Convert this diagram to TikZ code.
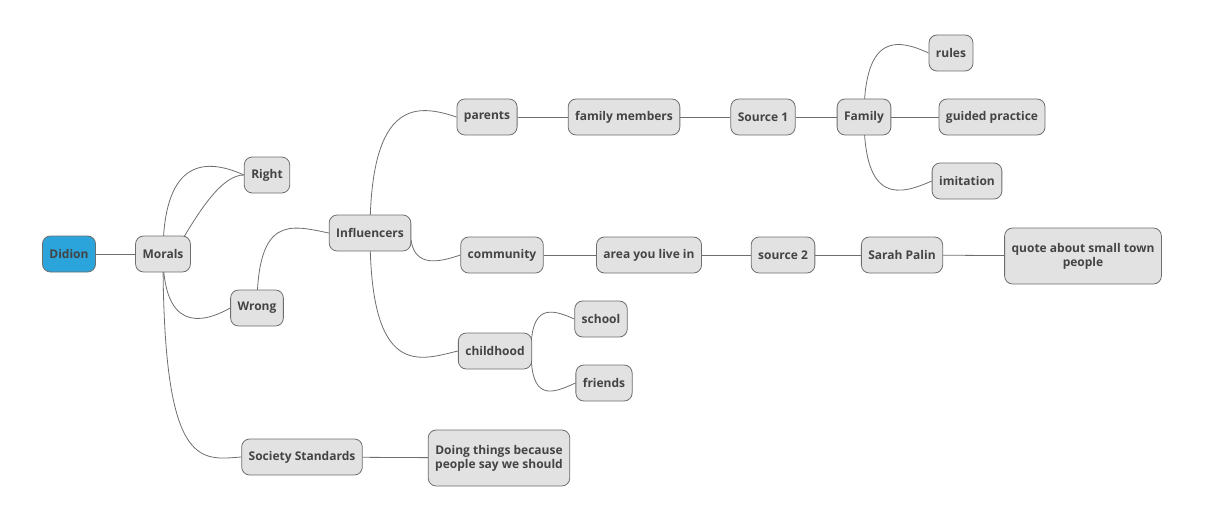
\documentclass[tikz,border=0pt]{standalone}
\usepackage{fontspec}
\setmainfont{Open Sans}
\usetikzlibrary{backgrounds}
\definecolor{boxfill}{HTML}{E2E2E2}
\definecolor{boxline}{HTML}{6E6E6E}
\definecolor{rootfill}{HTML}{2AA4DB}
\definecolor{txt}{HTML}{444444}
\begin{document}
\begin{tikzpicture}[x=1pt,y=-1pt,
  box/.style={draw=boxline,fill=boxfill,rounded corners=8pt,minimum height=36pt,inner xsep=7pt,
    font=\bfseries\fontsize{12}{14}\selectfont,text=txt,align=center,line width=0.8pt},
  root/.style={box,fill=rootfill,text=txt},
  link/.style={draw=boxline,line width=0.8pt}]
\useasboundingbox (0,0) rectangle (1222,524);
\node[root] (didion) at (69,254) {Didion};
\node[box] (morals) at (163,254) {Morals};
\node[box] (right) at (267,175) {Right};
\node[box] (wrong) at (257,308) {Wrong};
\node[box] (soc) at (302,457) {Society Standards};
\node[box,minimum height=56pt] (doing) at (499,458) {Doing things because\\people say we should};
\node[box] (infl) at (370,233) {Influencers};
\node[box] (parents) at (487,117) {parents};
\node[box] (fam) at (624,117) {family members};
\node[box] (s1) at (763,117) {Source 1};
\node[box] (family) at (864,117) {Family};
\node[box] (rules) at (951,53) {rules};
\node[box] (guided) at (992,117) {guided practice};
\node[box] (imit) at (967,181) {imitation};
\node[box] (comm) at (502,255) {community};
\node[box] (area) at (649,255) {area you live in};
\node[box] (s2) at (783,255) {source 2};
\node[box] (palin) at (902,255) {Sarah Palin};
\node[box,minimum height=56pt] (quote) at (1083,256) {quote about small town\\people};
\node[box] (child) at (495,351) {childhood};
\node[box] (school) at (601,319) {school};
\node[box] (friends) at (604,383) {friends};
\begin{scope}[on background layer]
\draw[link] (didion) -- (morals);
\draw[link] (morals.center) to[out=-90,in=180,looseness=0.9] ([yshift=0pt]right.west);
\path (morals.center) -- (right.west);
\draw[link] (morals.center) .. controls (163,165) and (200,155) .. (right.west);
\draw[link] (morals.center) .. controls (163,330) and (200,325) .. (wrong.west);
\draw[link] (morals.center) .. controls (163,470) and (200,460) .. (soc.west);
\draw[link] (soc) -- (doing);
\draw[link] (wrong.center) .. controls (257,215) and (290,225) .. (infl.west);
\draw[link] (infl.center) .. controls (370,95) and (420,105) .. (parents.west);
\draw[link] (infl.center) .. controls (370,380) and (420,360) .. (child.west);
\draw[link] (411,240) .. controls (415,268) and (440,262) .. (comm.west);
\draw[link] (parents) -- (fam);
\draw[link] (fam) -- (s1);
\draw[link] (s1) -- (family);
\draw[link] (family) -- (guided);
\draw[link] (family.center) .. controls (864,30) and (900,40) .. (rules.west);
\draw[link] (family.center) .. controls (864,205) and (900,195) .. (imit.west);
\draw[link] (comm) -- (area);
\draw[link] (area) -- (s2);
\draw[link] (s2) -- (palin);
\draw[link] (palin) -- (quote);
\draw[link] (531,351) .. controls (531,305) and (550,308) .. (school.west);
\draw[link] (531,351) .. controls (531,400) and (550,395) .. (friends.west);
\end{scope}
\end{tikzpicture}
\end{document}
